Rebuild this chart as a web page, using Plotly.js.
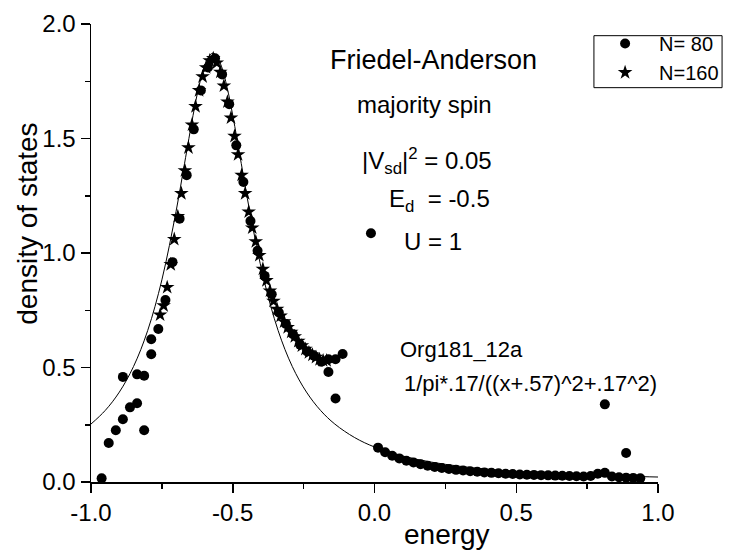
<!DOCTYPE html>
<html>
<head>
<meta charset="utf-8">
<script src="https://cdn.plot.ly/plotly-3.0.1.min.js"></script>
<style>
html,body{margin:0;padding:0;background:#fff;}
#chart{width:736px;height:555px;}
</style>
</head>
<body>
<div id="chart"></div>
<script>
// ---- data ----
// Lorentzian fit curve 1/pi*.17/((x+.57)^2+.17^2), sampled values
const fitX = [-1.0,-0.95,-0.9,-0.85,-0.8,-0.75,-0.7,-0.67,-0.64,-0.62,-0.6,-0.58,-0.57,-0.56,-0.54,-0.52,-0.5,-0.47,-0.44,-0.39,-0.34,-0.29,-0.24,-0.19,-0.14,-0.07,0.0,0.1,0.2,0.3,0.4,0.5,0.6,0.7,0.8,0.9,1.0];
const fitY = [0.2531,0.3122,0.3927,0.5043,0.6615,0.8827,1.1815,1.3911,1.6010,1.7233,1.8159,1.8660,1.8724,1.8660,1.8159,1.7233,1.6010,1.3911,1.1815,0.8827,0.6615,0.5043,0.3927,0.3122,0.2531,0.1940,0.1529,0.1133,0.0870,0.0689,0.0558,0.0461,0.0387,0.0330,0.0284,0.0247,0.0217];

// N = 80 (circles)
const n80X = [-0.9625,-0.9375,-0.9125,-0.8875,-0.8875,-0.8625,-0.8375,-0.8375,-0.8125,-0.8125,-0.7875,-0.7875,-0.7625,-0.7375,-0.7125,-0.6875,-0.6625,-0.6375,-0.6125,-0.5875,-0.5625,-0.5375,-0.5125,-0.4875,-0.4625,-0.4375,-0.4125,-0.3875,-0.3625,-0.3375,-0.3125,-0.2875,-0.2625,-0.2375,-0.2125,-0.1875,-0.1625,-0.1625,-0.1375,-0.1375,-0.1125,-0.0125,
  0.0125,0.0375,0.0625,0.0875,0.1125,0.1375,0.1625,0.1875,0.2125,0.2375,0.2625,0.2875,0.3125,0.3375,0.3625,0.3875,0.4125,0.4375,0.4625,0.4875,0.5125,0.5375,0.5625,0.5875,0.6125,0.6375,0.6625,0.6875,0.7125,0.7375,0.7625,0.7875,0.8125,0.8125,0.8375,0.8625,0.8875,0.8875,0.9125,0.9375];
const n80Y = [0.016,0.17,0.226,0.274,0.459,0.326,0.344,0.470,0.464,0.226,0.558,0.623,0.668,0.795,0.96,1.15,1.34,1.54,1.71,1.81,1.85,1.78,1.65,1.47,1.31,1.14,1.01,0.90,0.82,0.74,0.69,0.645,0.60,0.57,0.55,0.525,0.536,0.48,0.536,0.365,0.559,1.086,
  0.150,0.130,0.115,0.103,0.093,0.085,0.078,0.071,0.066,0.061,0.057,0.053,0.050,0.047,0.045,0.042,0.040,0.038,0.036,0.035,0.033,0.032,0.031,0.030,0.029,0.028,0.027,0.026,0.025,0.024,0.026,0.036,0.040,0.339,0.024,0.021,0.019,0.127,0.018,0.016];

// N = 160 (stars)
const n160X = [-0.75625,-0.74375,-0.73125,-0.71875,-0.70625,-0.69375,-0.68125,-0.66875,-0.65625,-0.64375,-0.63125,-0.61875,-0.60625,-0.59375,-0.58125,-0.56875,-0.55625,-0.54375,-0.53125,-0.51875,-0.50625,-0.49375,-0.48125,-0.46875,-0.45625,-0.44375,-0.43125,-0.41875,-0.40625,-0.39375,-0.38125,-0.36875,-0.35625,-0.34375,-0.33125,-0.31875,-0.30625,-0.29375,-0.28125,-0.26875,-0.25625,-0.24375,-0.23125,-0.21875,-0.20625,-0.19375,-0.18125,-0.16875];
const n160Y = [0.73,0.77,0.85,0.95,1.06,1.16,1.26,1.36,1.46,1.56,1.64,1.71,1.77,1.81,1.84,1.85,1.83,1.79,1.73,1.66,1.59,1.51,1.43,1.34,1.26,1.18,1.11,1.05,0.99,0.93,0.88,0.835,0.79,0.755,0.725,0.70,0.675,0.655,0.635,0.615,0.595,0.58,0.565,0.555,0.545,0.535,0.53,0.53];

const xTickVals = [-1.0,-0.5,0.0,0.5,1.0];
const xTickText = ["-1.0","-0.5","0.0","0.5","1.0"];
const yTickVals = [0.0,0.5,1.0,1.5,2.0];
const yTickText = ["0.0","0.5","1.0","1.5","2.0"];

const FONT = "Arial, 'Liberation Sans', Helvetica, sans-serif";

const traces = [
  {x: fitX, y: fitY, type: 'scatter', mode: 'lines', line: {color: '#000', width: 1, shape: 'spline', smoothing: 1}, showlegend: false, hoverinfo: 'skip'},
  {x: n160X, y: n160Y, type: 'scatter', mode: 'markers', name: 'N=160', legendgroup: 'b', legendrank: 2,
   marker: {symbol: 'star', size: 11, color: '#000', line: {width: 0}}},
  {x: n80X, y: n80Y, type: 'scatter', mode: 'markers', name: 'N= 80', legendgroup: 'a', legendrank: 1,
   marker: {symbol: 'circle', size: 10, color: '#000', line: {width: 0}}}
];

const axisCommon = {
  showgrid: false, zeroline: false, showline: true, linecolor: '#000', linewidth: 1.5,
  ticks: 'outside', ticklen: 9, tickwidth: 1.5, tickcolor: '#000',
  tickfont: {family: FONT, size: 24, color: '#000'},
  minor: {ticks: 'outside', ticklen: 5, tickwidth: 1.5, tickcolor: '#000', dtick: 0.25, showgrid: false},
  fixedrange: true
};

const layout = {
  width: 736, height: 555,
  margin: {l: 91, r: 69, t: 24, b: 73},
  paper_bgcolor: '#fff', plot_bgcolor: '#fff',
  showlegend: true,
  legend: {x: 0.882, xanchor: 'left', y: 1.0, yanchor: 'top', xref: 'paper', yref: 'paper',
    borderwidth: 0, bgcolor: 'rgba(0,0,0,0)', itemwidth: 58, tracegroupgap: 5, traceorder: 'normal',
    font: {family: FONT, size: 20, color: '#000'}},
  shapes: [
    {type: 'rect', xref: 'paper', yref: 'paper', x0: 0.887, x1: 1.113, y0: 0.861, y1: 0.9745,
     line: {color: '#000', width: 1}, fillcolor: '#fff', layer: 'below'}
  ],
  xaxis: Object.assign({}, axisCommon, {range: [-1, 1], tickvals: xTickVals, ticktext: xTickText}),
  yaxis: Object.assign({}, axisCommon, {range: [0, 2], tickvals: yTickVals, ticktext: yTickText}),
  annotations: [
    {xref: 'paper', yref: 'paper', x: 0.628, y: -0.115, xanchor: 'center', yanchor: 'middle', showarrow: false,
     text: 'energy', font: {family: FONT, size: 28, color: '#000'}},
    {xref: 'paper', yref: 'paper', x: -0.112, y: 0.565, xanchor: 'center', yanchor: 'middle', showarrow: false, textangle: -90,
     text: 'density of states', font: {family: FONT, size: 28, color: '#000'}},
    {xref: 'x', yref: 'y', x: 0.208, y: 1.845, showarrow: false, xanchor: 'center', yanchor: 'middle',
     text: 'Friedel-Anderson', font: {family: FONT, size: 27, color: '#000'}},
    {xref: 'x', yref: 'y', x: 0.177, y: 1.648, showarrow: false, xanchor: 'center', yanchor: 'middle',
     text: 'majority spin', font: {family: FONT, size: 24, color: '#000'}},
    {xref: 'x', yref: 'y', x: 0.185, y: 1.40, showarrow: false, xanchor: 'center', yanchor: 'middle',
     text: '|V<sub>sd</sub>|<sup>2</sup> = 0.05', font: {family: FONT, size: 24, color: '#000'}},
    {xref: 'x', yref: 'y', x: 0.228, y: 1.228, showarrow: false, xanchor: 'center', yanchor: 'middle',
     text: 'E<sub>d</sub>  = -0.5', font: {family: FONT, size: 24, color: '#000'}},
    {xref: 'x', yref: 'y', x: 0.205, y: 1.05, showarrow: false, xanchor: 'center', yanchor: 'middle',
     text: 'U = 1', font: {family: FONT, size: 24, color: '#000'}},
    {xref: 'x', yref: 'y', x: 0.083, y: 0.578, showarrow: false, xanchor: 'left', yanchor: 'middle',
     text: 'Org181_12a', font: {family: FONT, size: 22, color: '#000'}},
    {xref: 'x', yref: 'y', x: 0.096, y: 0.428, showarrow: false, xanchor: 'left', yanchor: 'middle',
     text: '1/pi*.17/((x+.57)^2+.17^2)', font: {family: FONT, size: 22, color: '#000'}}
  ]
};

Plotly.newPlot('chart', traces, layout, {displayModeBar: false, staticPlot: true});
</script>
</body>
</html>
